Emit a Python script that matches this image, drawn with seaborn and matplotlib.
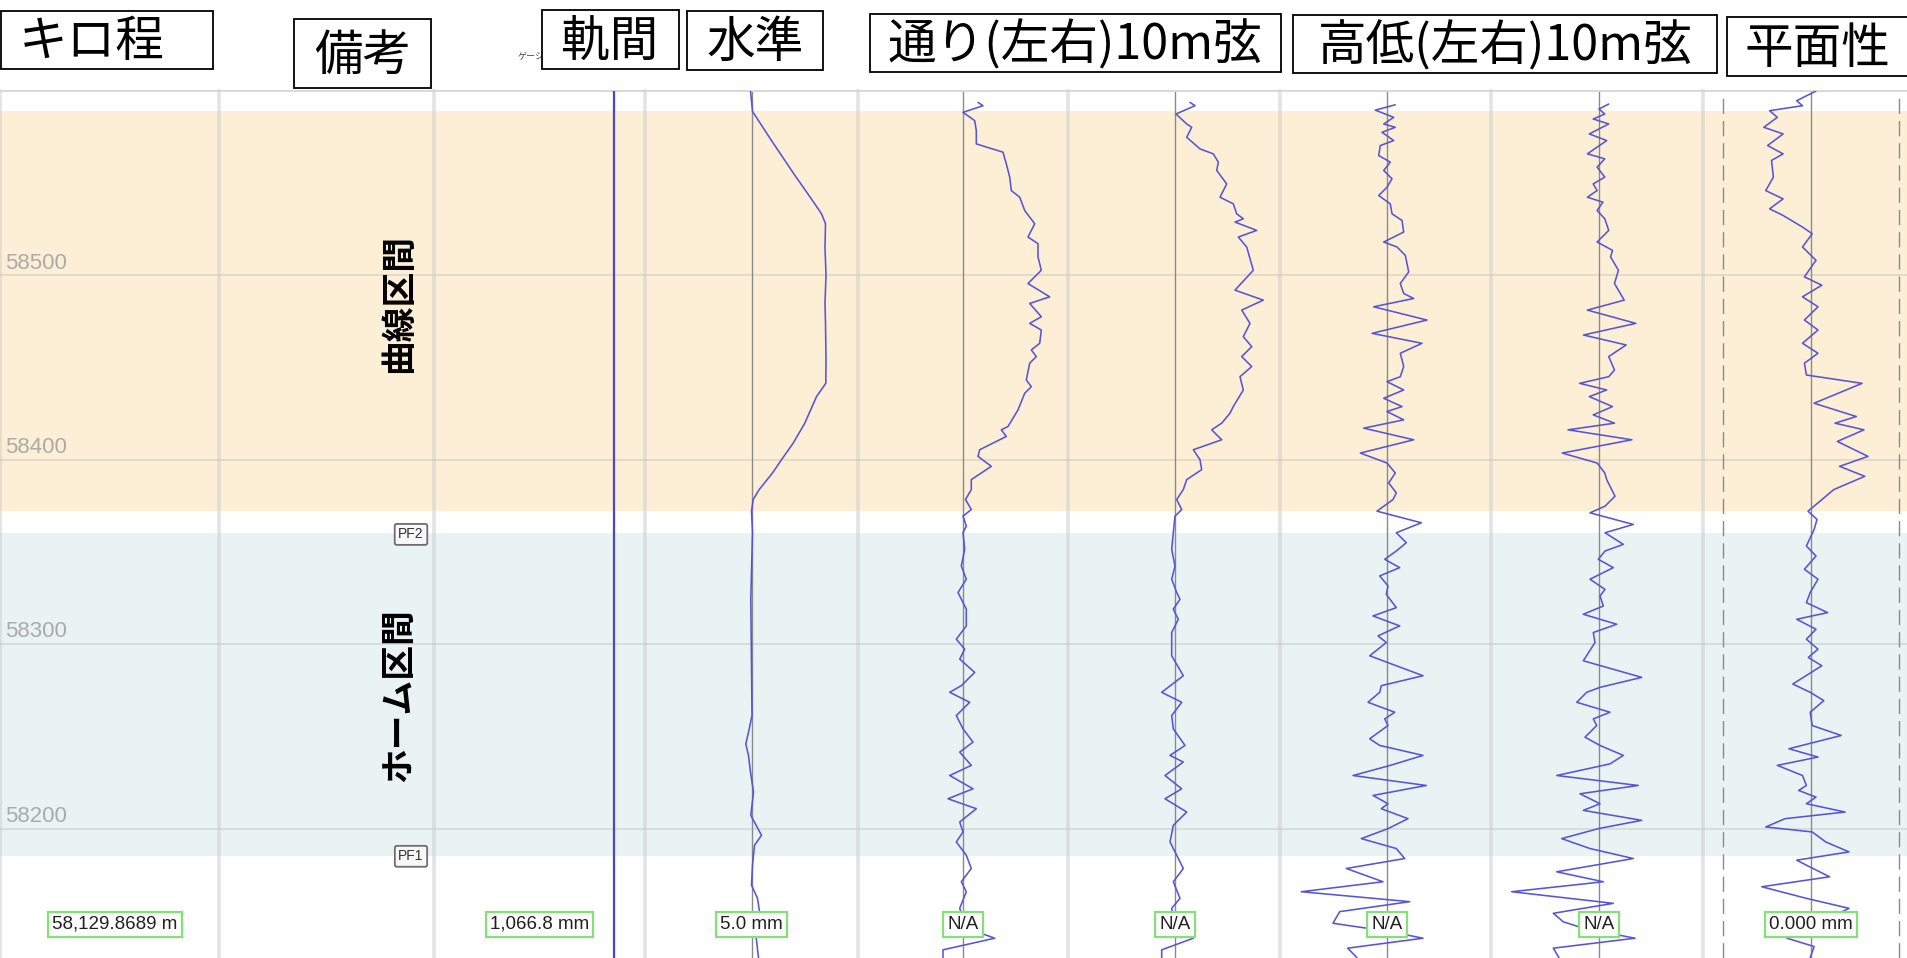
import numpy as np
import pandas as pd
import matplotlib
matplotlib.use('Agg')
import matplotlib.pyplot as plt
import matplotlib.transforms as mtransforms
from matplotlib.patches import Rectangle
import seaborn as sns

# ---------------- data ----------------
km_range = (58129.87, 58599.87)
km_ticks = [58200, 58300, 58400, 58500]

curve_band = (58372.0, 58589.0)      # 曲線区間
platform_band = (58185.0, 58360.0)   # ホーム区間
section_label_km = [58484.5, 58272.5]
section_names = ['曲線区間', 'ホーム区間']
pf_km = [58359.5, 58185.0]
pf_names = ['PF2', 'PF1']

# 軌間
gauge_km = [58599.87, 58500, 58400, 58300, 58200, 58129.87]
gauge_mm = [1066.8, 1066.8, 1066.8, 1066.8, 1066.8, 1066.8]

# 水準
suijun_km = [58600.0, 58588.8, 58573.0, 58555.0, 58540.5, 58533.3, 58527.9, 58515.0,
             58500.0, 58485.0, 58473.9, 58455.0, 58441.4, 58434.2, 58419.8, 58409.0,
             58400.0, 58392.8, 58383.8, 58378.4, 58372.1, 58360.4, 58324.3, 58288.3,
             58261.2, 58252.3, 58245.9, 58239.6, 58230.6, 58219.8, 58207.2, 58196.4,
             58191.0, 58180.2, 58169.4, 58162.2, 58155.0, 58144.1, 58130.0]
suijun_mm = [-1, 1, 20, 42.3, 61, 70, 74, 73.5,
             74.5, 73.5, 74, 74.5, 74.3, 65, 53.3, 41.7,
             30, 21, 7.7, 1.7, 0, 1, -0.7, 0,
             0.5, -3, -5.7, -3, -1, 2, -0.7, 10,
             3, 1, 0, 6, 8, 4, 7]

# 通り 左
toriL_km = [58593.7, 58591.9, 58588.3, 58583.8, 58578.4, 58571.2, 58566.7, 58560.4,
            58553.2, 58545.9, 58542.3, 58535.1, 58527.9, 58520.7, 58517.1, 58509.9,
            58502.7, 58495.5, 58488.3, 58484.7, 58477.5, 58473.9, 58470.3, 58463.1,
            58459.5, 58455.9, 58452.3, 58443.2, 58439.6, 58436.0, 58427.0, 58418.0,
            58416.2, 58412.6, 58405.4, 58401.8, 58396.4, 58389.2, 58383.8, 58378.4,
            58373.0, 58369.4, 58364.0, 58360.4, 58351.4, 58342.4, 58335.2, 58328.0,
            58319.0, 58309.9, 58302.7, 58297.3, 58291.9, 58284.7, 58277.5, 58273.9,
            58268.5, 58261.3, 58254.1, 58246.9, 58241.5, 58234.3, 58228.8, 58221.6,
            58216.2, 58210.8, 58203.6, 58198.2, 58192.8, 58185.6, 58178.4, 58171.2,
            58165.8, 58156.8, 58151.4, 58144.2, 58140.6, 58134.3, 58130.0]
toriL_mm = [15, 20, 0, 11.7, 13.3, 13.3, 40, 43.3,
            46.7, 48.3, 56.7, 61.7, 71.7, 65, 75, 75,
            78.3, 65, 86.7, 66.7, 78.3, 66.7, 78.3, 76.7,
            68.3, 73.3, 66.7, 63.3, 68.3, 61.7, 55, 45,
            38.3, 43.3, 16.7, 15, 28.3, 8.3, 8.3, 2.5,
            8.3, 0, 3.3, 0, 1.7, -1.7, 3.3, -5,
            3.3, 3.3, -6.7, 1.7, -3.3, 11.7, -1.7, -13.3,
            6.7, -6.7, 0, 10, -3.3, 8.3, -13.3, 10,
            -15, 13.3, -3.3, 0, -6.7, 3.3, 8.3, -1.7,
            3.3, -3.3, 0, 13.3, 31.7, -20, -20]

# 通り 右
toriR_km = [58593.7, 58591.9, 58587.4, 58582.0, 58580.2, 58574.8, 58568.5, 58565.8,
            58561.3, 58556.8, 58549.5, 58542.3, 58538.7, 58533.3, 58530.6, 58528.8,
            58524.3, 58520.7, 58515.3, 58502.7, 58491.9, 58486.5, 58481.1, 58473.9,
            58466.7, 58461.3, 58455.9, 58450.5, 58445.0, 58437.8, 58428.8, 58425.2,
            58419.8, 58416.2, 58410.8, 58405.4, 58400.0, 58394.6, 58389.2, 58383.8,
            58378.4, 58373.0, 58369.4, 58360.4, 58351.4, 58342.4, 58335.2, 58328.0,
            58324.3, 58319.0, 58313.5, 58306.3, 58293.7, 58282.9, 58273.9, 58268.5,
            58261.3, 58254.1, 58245.1, 58239.7, 58236.1, 58228.8, 58221.6, 58216.2,
            58209.0, 58201.8, 58192.8, 58185.6, 58178.4, 58171.2, 58162.2, 58156.8,
            58144.2, 58140.6, 58134.3, 58130.0]
toriR_mm = [15, 20, 1, 11.7, 16.7, 11.7, 25, 38.3,
            43.3, 41.7, 51.7, 45, 58.3, 61.7, 68.3, 60,
            81.7, 63.3, 71.7, 78.3, 60, 88.3, 66.7, 75,
            68.3, 76.7, 66.7, 76.7, 65, 68.3, 58.3, 55,
            46.7, 36.7, 46.7, 18.3, 25, 26.7, 11.7, 8.3,
            1.7, 6.7, 0, -1.7, -3.3, 0, -3.3, 1.7,
            5, -1.7, 3.3, -3.3, -3.3, 8.3, -13.3, 6.7,
            -3.3, -1.7, 10, -5, 8.3, -10, 6.7, -10,
            11.7, -1.7, -5, 1.7, 8.3, -1.7, 5, -3.3,
            0, 18.3, -13.3, -13.3]

# 高低 左
koteiL_km = [58592.4, 58589.5, 58585.6, 58582.0, 58580.2, 58577.5, 58573.0, 58570.3,
             58564.9, 58561.3, 58556.8, 58552.3, 58547.7, 58543.2, 58538.7, 58533.3,
             58529.7, 58523.4, 58518.0, 58515.3, 58510.8, 58501.8, 58495.5, 58490.1,
             58487.4, 58482.9, 58475.7, 58468.5, 58463.1, 58457.7, 58450.5, 58445.0,
             58442.3, 58437.8, 58433.3, 58428.8, 58426.1, 58421.6, 58417.1, 58410.8,
             58403.6, 58398.2, 58392.8, 58387.4, 58382.0, 58378.4, 58372.1, 58365.8,
             58360.4, 58355.0, 58350.5, 58346.0, 58341.5, 58337.0, 58331.6, 58327.0,
             58319.8, 58315.3, 58309.9, 58304.5, 58300.9, 58293.7, 58288.3, 58282.9,
             58277.5, 58273.9, 58268.5, 58263.1, 58259.5, 58255.9, 58248.7, 58245.1,
             58239.7, 58234.2, 58228.8, 58223.4, 58218.0, 58213.5, 58210.8, 58205.4,
             58200.0, 58194.6, 58189.2, 58183.8, 58178.4, 58171.2, 58165.8, 58160.4,
             58155.0, 58148.7, 58144.2, 58140.6, 58135.2, 58130.0]
koteiL_mm = [8.3, -11.7, 6.7, -3.3, 8.3, -5, 6.7, -6.7,
             -8.3, 3.3, -3.3, 5, 0, -8.3, 3.3, 5,
             15, 16.7, -3.3, 10, 18.3, 21.7, 13.3, 16.7,
             26.7, -13.3, 40, -15, 35, 13.3, 16.7, 13.3,
             0, 16.7, -3.3, 15, 0, 16.7, -23.3, 26.7,
             -26.7, 0, 8.3, 1.7, 9.3, 6, -10, 34.3,
             9.3, 19.3, 9.3, -2.3, 12.7, -7.3, 1, -0.7,
             9.3, -14, 12.7, -9, -0.7, -17.3, 9.3, 36,
             -5.7, -7.3, -19, 7.7, -2.3, 1, -17.3, -7.3,
             36, 2.7, -34, 39.3, -14, 1, -5.7, 21,
             1, -25.7, 9.3, 17.7, -40.7, -4, -85.7, 22.7,
             -47.3, -54, 2.7, 36, -39.3, -30]

# 高低 右
koteiR_km = [58592.8, 58590.1, 58587.4, 58584.7, 58582.0, 58576.6, 58573.0, 58565.8,
             58563.1, 58558.6, 58553.2, 58549.5, 58545.9, 58542.3, 58539.6, 58535.1,
             58530.6, 58524.3, 58518.0, 58513.5, 58509.9, 58502.7, 58495.5, 58486.5,
             58481.1, 58473.9, 58467.6, 58462.2, 58455.9, 58448.6, 58445.0, 58441.4,
             58437.8, 58434.2, 58428.8, 58424.3, 58419.8, 58416.2, 58410.8, 58403.6,
             58398.2, 58392.8, 58389.2, 58380.2, 58374.8, 58371.2, 58364.9, 58360.4,
             58354.1, 58350.5, 58346.0, 58341.5, 58335.2, 58329.7, 58326.1, 58320.7,
             58316.2, 58310.8, 58306.3, 58300.9, 58291.0, 58282.0, 58276.6, 58273.9,
             58268.5, 58263.1, 58259.5, 58255.9, 58249.6, 58245.1, 58239.7, 58235.1,
             58228.8, 58223.4, 58218.9, 58213.5, 58209.9, 58204.5, 58200.0, 58194.6,
             58189.2, 58183.8, 58176.6, 58171.2, 58165.8, 58159.5, 58154.1, 58149.5,
             58146.0, 58140.6, 58135.2, 58130.0]
koteiR_mm = [9.7, 0, 5.8, -5.8, 9.7, -9.7, 7.7, -11.6,
             5.8, -1.9, 5.8, -5.8, -1.9, -11.6, 3.9, -1.9,
             5.8, 9.7, -1.9, 13.5, 11.6, 19.4, 15.5, 25.2,
             -11.6, 36.8, -15.5, 27.1, 9.7, 15.5, 9.7, -19.4,
             7.7, -9.7, 13.5, -5.8, 15.5, -31, 32.9, -36.8,
             -1.9, 5.8, 7.7, 16, 6, -9, 34.3, 6,
             24.3, 6, -0.7, 14.3, -9, 6, 1, 4.3,
             -15.7, 17.7, -5.7, -4, -15.7, 42.7, 1, -12.3,
             -22.3, 11, -5.7, -2.3, -14, 1, 24.3, 11,
             -42.3, 39.3, -19, 1, -15.7, 42.7, -0.7, -37.3,
             -9, 34.3, -42.3, 4.3, -87.3, 14.3, -45.7, -35.7,
             -15.7, 36, -45.7, -40]

# 平面性
heimen_km = [58599.87, 58594.6, 58591.9, 58589.2, 58585.6, 58580.2, 58576.6, 58570.3,
             58565.8, 58562.2, 58553.2, 58545.9, 58541.4, 58536.0, 58532.4, 58526.1,
             58522.5, 58515.3, 58508.1, 58499.1, 58494.6, 58488.3, 58482.9, 58475.7,
             58470.3, 58463.1, 58457.7, 58452.3, 58445.9, 58441.4, 58430.6, 58423.4,
             58419.8, 58416.2, 58409.9, 58401.8, 58396.4, 58391.0, 58383.8, 58376.6,
             58372.1, 58367.6, 58362.2, 58353.2, 58347.8, 58340.6, 58335.2, 58328.0,
             58322.5, 58317.1, 58313.5, 58308.1, 58302.7, 58297.3, 58292.8, 58288.3,
             58278.4, 58273.9, 58269.4, 58263.1, 58255.9, 58250.5, 58243.3, 58238.8,
             58234.3, 58228.8, 58223.4, 58220.7, 58217.1, 58213.5, 58209.0, 58205.4,
             58200.9, 58198.2, 58192.8, 58187.4, 58182.9, 58180.2, 58173.9, 58168.5,
             58162.2, 58156.8, 58140.6, 58136.1, 58130.0]
heimen_mm = [5, -14.3, -8.5, -41.4, -33.7, -47.2, -27.9, -43.4,
             -27.9, -39.5, -37.6, -45.3, -27.9, -41.4, -27.9, -8.5,
             1.2, -8.5, 5, -6.6, 10.8, -8.5, 7, -6.6,
             7, -8.5, 7, -6.6, -4.6, 51.1, 3.1, 45.3,
             24, 53, 26.3, 57, 28.6, 53.8, 22.8, 7,
             -3, 6, 3.1, -4.6, 5, -6.6, 7, -0.8,
             -4.6, 16.6, -14.3, 5, -4.6, 7, -2.7, 10.8,
             -18.2, -0.8, 12.8, -0.8, 1.2, 30.2, -22.1, 7,
             -33.7, -8.5, -4.6, -12.4, 5, -4.6, 34.1, -25.9,
             -45.3, 1.2, 14.7, 38, -14.3, -4.6, 18.6, -49.2,
             -4.6, 38, -24, 3.1, -0.8]
heimen_limit = [-88, 88]

headers = ['キロ程', '備考', '軌間', '水準', '通り(左右)10m弦', '高低(左右)10m弦', '平面性']
readouts = ['58,129.8689 m', '', '1,066.8 mm', '5.0 mm', 'N/A', 'N/A', 'N/A', 'N/A', '0.000 mm']

# ---------------- layout / style ----------------
W, H = 1907, 958
col_widths = [219, 215, 211, 213, 210, 212, 211, 212, 204]
xlims = [(0, 1), (0, 1), (1048.8, 1069.9), (-106.5, 106.5), (-105, 105),
         (-107, 105), (-107, 104), (-108, 104), (-108, 96)]
# box (left, top, right, bottom) in pixels, and text centre x
header_boxes = [(1, 11, 213, 69), (294, 19, 431, 88), (542, 10, 679, 69), (687, 11, 823, 70),
                (870, 14, 1281, 72), (1293, 15, 1717, 73), (1727, 17, 1910, 76)]
header_cx = [92, 363, 610, 755, 1075, 1505, 1817]

orange = '#fdefd6'
teal = '#eaf3f4'
line_c = '#5656d4'
narrow = ['Liberation Sans Narrow', 'Liberation Sans', 'DejaVu Sans']


def fx(px):
    return px / W


def fy(py):
    return 1 - py / H


sns.set_theme(style='white')
plt.rcParams['font.family'] = ['Noto Sans CJK JP', 'DejaVu Sans']

fig = plt.figure(figsize=(W / 100, H / 100), dpi=100)
gs = fig.add_gridspec(1, 9, left=0, right=1, bottom=0, top=fy(91), wspace=0,
                      width_ratios=col_widths)
axes = [fig.add_subplot(gs[0, i]) for i in range(9)]

series = {
    2: (gauge_km, gauge_mm),
    3: (suijun_km, suijun_mm),
    4: (toriL_km, toriL_mm),
    5: (toriR_km, toriR_mm),
    6: (koteiL_km, koteiL_mm),
    7: (koteiR_km, koteiR_mm),
    8: (heimen_km, heimen_mm),
}

for i, ax in enumerate(axes):
    ax.set_facecolor('white')
    ax.axhspan(*curve_band, color=orange, lw=0, zorder=0)
    ax.axhspan(*platform_band, color=teal, lw=0, zorder=0)
    for t in km_ticks:
        ax.axhline(t, color='#b4b4b4', alpha=0.45, lw=1.1, zorder=1)

    if i >= 3:
        ax.axvline(0, color='#8a8a8a', lw=1.0, zorder=2)
    if i == 8:
        for lim in heimen_limit:
            ax.axvline(lim, color='#8a8a8a', lw=1.0, dashes=(11, 5), zorder=2)

    if i in series:
        km, mm = series[i]
        df = pd.DataFrame({'km': km, 'mm': mm})
        sns.lineplot(data=df, x='mm', y='km', orient='y', sort=False, estimator=None,
                     color='#4848c4' if i == 2 else line_c, lw=1.6 if i == 2 else 1.15,
                     ax=ax, legend=False, zorder=3)

    ax.set_xlim(*xlims[i])
    ax.set_ylim(*km_range)
    ax.set_xticks([])
    ax.set_yticks([])
    ax.set_xlabel('')
    ax.set_ylabel('')
    for s in ['right', 'bottom']:
        ax.spines[s].set_visible(False)
    ax.spines['left'].set(color='#c8c8c8', alpha=0.5, lw=2.6)
    ax.spines['top'].set(color='#d8d8d8', lw=1.4)

    # readout box at the bottom
    if readouts[i]:
        if i >= 3:
            trans = mtransforms.blended_transform_factory(ax.transData, ax.transAxes)
            x0 = 0
        else:
            trans = ax.transAxes
            x0 = 0.525 if i == 0 else 0.5
        ax.text(x0, 0.039, readouts[i], transform=trans, ha='center', va='center',
                fontsize=13.5, family=narrow, color='#202020', zorder=5,
                bbox=dict(boxstyle='square,pad=0.22', fc='white', ec='#86e07a', lw=1.6))

# km labels
ax0 = axes[0]
blend0 = mtransforms.blended_transform_factory(ax0.transAxes, ax0.transData)
for t in km_ticks:
    ax0.annotate(str(t), xy=(0.022, t), xycoords=blend0, xytext=(0, 1.2),
                 textcoords='offset points', ha='left', va='bottom',
                 fontsize=16, family=['Liberation Sans', 'DejaVu Sans'], color='#ababab')

# 備考 column: section names and platform marks
ax1 = axes[1]
blend1 = mtransforms.blended_transform_factory(ax1.transAxes, ax1.transData)
for k, name in zip(section_label_km, section_names):
    ax1.text(0.837, k, name, transform=blend1, rotation=90, ha='center', va='center',
             fontsize=25, fontweight='bold', color='black', zorder=5)
for k, name in zip(pf_km, pf_names):
    ax1.text(0.893, k, name, transform=blend1, ha='center', va='center',
             fontsize=10, family=narrow, color='#333333', zorder=5,
             bbox=dict(boxstyle='round,pad=0.25,rounding_size=0.15', fc='#f7f7f7',
                       ec='#6e6e6e', lw=1.3))

# header boxes
fig.text(fx(518), fy(59), 'ゲージ', fontsize=6.5, ha='left', va='baseline', color='#444444', zorder=1)
for name, (x0, y0, x1, y1), cx in zip(headers, header_boxes, header_cx):
    fig.add_artist(Rectangle((fx(x0), fy(y1)), fx(x1) - fx(x0), fy(y0) - fy(y1),
                             transform=fig.transFigure, fc='white', ec='black', lw=1.3, zorder=2))
    fig.text(fx(cx), fy((y0 + y1) / 2 + 2.5), name, ha='center', va='center',
             fontsize=35, color='black', zorder=3)

fig.savefig('out.png', dpi=100)
